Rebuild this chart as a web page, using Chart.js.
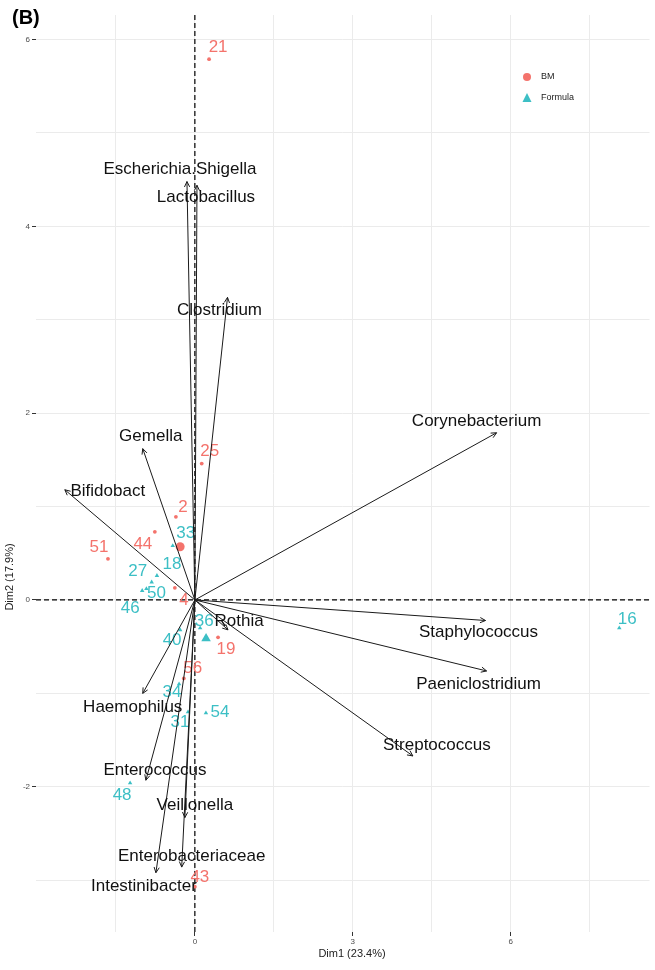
<!DOCTYPE html>
<html><head><meta charset="utf-8">
<script src="https://cdn.jsdelivr.net/npm/chart.js@4.4.0/dist/chart.umd.min.js"></script>
<style>html,body{margin:0;padding:0;background:#fff;}canvas{display:block;}</style>
</head><body>
<div style="width:655px;height:970px;position:relative;"><canvas id="c" width="655" height="970"></canvas></div>
<script>
// ---- data (individuals) ----
const bmIds = ['21','25','2','44','51','4','19','56','43'];
const bmX = [0.27, 0.13, -0.36, -0.76, -1.65, -0.38, 0.44, -0.21, 0.00];
const bmY = [5.79, 1.46, 0.89, 0.73, 0.44, 0.13, -0.40, -0.84, -3.07];
const fmIds = ['16','33','18','27','50','46','36','40','34','31','54','48'];
const fmX = [8.06, -0.42, -0.72, -0.82, -0.92, -1.00, 0.10, -0.28, -0.30, -0.13, 0.21, -1.23];
const fmY = [-0.30, 0.58, 0.26, 0.19, 0.12, 0.10, -0.30, -0.32, -0.90, -1.20, -1.21, -1.96];
// ---- data (variables) ----
const varNames = ['Escherichia.Shigella','Lactobacillus','Clostridium','Corynebacterium','Gemella','Bifidobact',
  'Staphylococcus','Paeniclostridium','Streptococcus','Rothia','Haemophilus','Enterococcus','Veillonella',
  'Enterobacteriaceae','Intestinibacter'];
const varX = [-0.15, 0.04, 0.62, 5.73, -0.99, -2.47, 5.52, 5.54, 4.14, 0.63, -0.99, -0.93, -0.19, -0.25, -0.74];
const varY = [4.48, 4.44, 3.24, 1.79, 1.62, 1.18, -0.22, -0.76, -1.67, -0.32, -1.00, -1.93, -2.33, -2.86, -2.92];
// ---- axes ----
const xGridValues = [-1.5, 0, 1.5, 3, 4.5, 6, 7.5];
const xTickLabels = ['0','3','6'];
const yGridValues = [-3, -2, -1, 0, 1, 2, 3, 4, 5, 6];
const yTickLabels = ['-2','0','2','4','6'];
const groupNames = ['BM','Formula'];
const xTitle = 'Dim1 (23.4%)';
const yTitle = 'Dim2 (17.9%)';

// ---- styles (label placement offsets in px, not data) ----
const bmLabelOff = [[9,-12],[8,-12],[7,-10],[-12,13],[-9,-12],[9,12],[8,12],[9,-10],[5,-9]];
const fmLabelOff = [[8,-9],[13,-12],[15,-11],[-14,-11],[10,5],[-12,18],[4,-7],[-8,10],[-7,8],[-8,10],[14,-1],[-8,12]];
const varLabelOff = [[-7,-12],[9,12],[-8,13],[-20,-11],[8,-12],[43,2],[-7,12],[-8,13],[24,-11],[11,-9],[-10,14],[9,-10],[10,-12],[10,-11],[-12,14]];
const RED = '#F4736C', TEAL = '#3CBFC5';

const mean = a => a.reduce((s,v)=>s+v,0)/a.length;
const toPts = (xs, ys) => xs.map((v,i)=>({x:v, y:ys[i]}));

const biplot = {
  id: 'biplot',
  beforeDatasetsDraw(chart){
    const {ctx, chartArea:a, scales:{x,y}} = chart;
    const x0 = x.getPixelForValue(0), y0 = y.getPixelForValue(0);
    ctx.save();
    ctx.strokeStyle = '#000'; ctx.lineWidth = 1.2; ctx.setLineDash([5,3]);
    ctx.beginPath();
    ctx.moveTo(x0, a.top); ctx.lineTo(x0, a.bottom);
    ctx.moveTo(a.left, y0); ctx.lineTo(a.right, y0);
    ctx.stroke();
    ctx.restore();
  },
  afterDatasetsDraw(chart){
    const {ctx, scales:{x,y}} = chart;
    const x0 = x.getPixelForValue(0), y0 = y.getPixelForValue(0);
    ctx.save();
    ctx.textAlign = 'center'; ctx.textBaseline = 'middle';
    ctx.font = '17px "Liberation Sans", Arial, sans-serif';
    // individual labels
    ctx.fillStyle = RED;
    bmIds.forEach((t,i)=>{
      ctx.fillText(t, x.getPixelForValue(bmX[i]) + bmLabelOff[i][0], y.getPixelForValue(bmY[i]) + bmLabelOff[i][1]);
    });
    ctx.fillStyle = TEAL;
    fmIds.forEach((t,i)=>{
      ctx.fillText(t, x.getPixelForValue(fmX[i]) + fmLabelOff[i][0], y.getPixelForValue(fmY[i]) + fmLabelOff[i][1]);
    });
    // arrows
    ctx.strokeStyle = '#1a1a1a'; ctx.lineWidth = 1;
    varNames.forEach((n,i)=>{
      const px = x.getPixelForValue(varX[i]), py = y.getPixelForValue(varY[i]);
      const ang = Math.atan2(py - y0, px - x0);
      const L = 6, h = Math.PI/7;
      ctx.beginPath();
      ctx.moveTo(x0, y0); ctx.lineTo(px, py);
      ctx.moveTo(px - L*Math.cos(ang - h), py - L*Math.sin(ang - h));
      ctx.lineTo(px, py);
      ctx.lineTo(px - L*Math.cos(ang + h), py - L*Math.sin(ang + h));
      ctx.stroke();
    });
    // variable labels
    ctx.fillStyle = '#111';
    varNames.forEach((n,i)=>{
      ctx.fillText(n, x.getPixelForValue(varX[i]) + varLabelOff[i][0], y.getPixelForValue(varY[i]) + varLabelOff[i][1]);
    });
    // legend
    ctx.fillStyle = RED;
    ctx.beginPath(); ctx.arc(527, 77, 4, 0, Math.PI*2); ctx.fill();
    ctx.fillStyle = TEAL;
    ctx.beginPath(); ctx.moveTo(527, 93); ctx.lineTo(531.5, 102); ctx.lineTo(522.5, 102); ctx.closePath(); ctx.fill();
    ctx.fillStyle = '#222'; ctx.textAlign = 'left';
    ctx.font = '9px "Liberation Sans", Arial, sans-serif';
    ctx.fillText(groupNames[0], 541, 77);
    ctx.fillText(groupNames[1], 541, 98);
    // titles
    ctx.fillStyle = '#000';
    ctx.font = 'bold 20px "Liberation Sans", Arial, sans-serif';
    ctx.textBaseline = 'alphabetic';
    ctx.fillText('(B)', 12, 24);
    ctx.font = '11px "Liberation Sans", Arial, sans-serif';
    ctx.textAlign = 'center'; ctx.textBaseline = 'middle';
    ctx.fillStyle = '#222';
    ctx.fillText(xTitle, 352, 954);
    ctx.translate(10, 577); ctx.rotate(-Math.PI/2);
    ctx.fillText(yTitle, 0, 0);
    ctx.restore();
  }
};

const tickFont = {family: '"Liberation Sans", Arial, sans-serif', size: 8};
new Chart(document.getElementById('c'), {
  type: 'scatter',
  data: {
    datasets: [
      {label: groupNames[0], data: toPts(bmX, bmY), pointStyle: 'circle', pointRadius: 1.9, backgroundColor: RED, borderColor: RED, borderWidth: 0},
      {label: groupNames[1], data: toPts(fmX, fmY), pointStyle: 'triangle', pointRadius: 2.6, backgroundColor: TEAL, borderColor: TEAL, borderWidth: 0},
      {label: groupNames[0] + ' mean', data: [{x: mean(bmX), y: mean(bmY)}], pointStyle: 'circle', pointRadius: 4.5, backgroundColor: RED, borderColor: RED, borderWidth: 0},
      {label: groupNames[1] + ' mean', data: [{x: mean(fmX), y: mean(fmY)}], pointStyle: 'triangle', pointRadius: 5.5, backgroundColor: TEAL, borderColor: TEAL, borderWidth: 0}
    ]
  },
  options: {
    responsive: false, animation: false, devicePixelRatio: 1,
    layout: {padding: {left: 0, top: 15, right: 5, bottom: 0}},
    plugins: {legend: {display: false}, tooltip: {enabled: false}},
    scales: {
      x: {
        type: 'linear', min: -3.017, max: 8.634,
        afterBuildTicks: s => { s.ticks = xGridValues.map(v=>({value: v})); },
        afterFit: s => { s.height = 38; },
        ticks: {autoSkip: false, maxRotation: 0, padding: 1, color: '#4d4d4d', font: tickFont,
          callback: v => xTickLabels.includes(String(v)) ? String(v) : ''},
        grid: {color: '#ebebeb', lineWidth: 1, tickLength: 4,
          tickColor: c => (c.tick && xTickLabels.includes(String(c.tick.value))) ? '#333' : 'rgba(0,0,0,0)'},
        border: {display: false}
      },
      y: {
        type: 'linear', min: -3.555, max: 6.263,
        afterBuildTicks: s => { s.ticks = yGridValues.map(v=>({value: v})); },
        afterFit: s => { s.width = 36; },
        ticks: {autoSkip: false, padding: 2, color: '#4d4d4d', font: tickFont,
          callback: v => yTickLabels.includes(String(v)) ? String(v) : ''},
        grid: {color: '#ebebeb', lineWidth: 1, tickLength: 4,
          tickColor: c => (c.tick && yTickLabels.includes(String(c.tick.value))) ? '#333' : 'rgba(0,0,0,0)'},
        border: {display: false}
      }
    }
  },
  plugins: [biplot]
});
</script>
</body></html>
